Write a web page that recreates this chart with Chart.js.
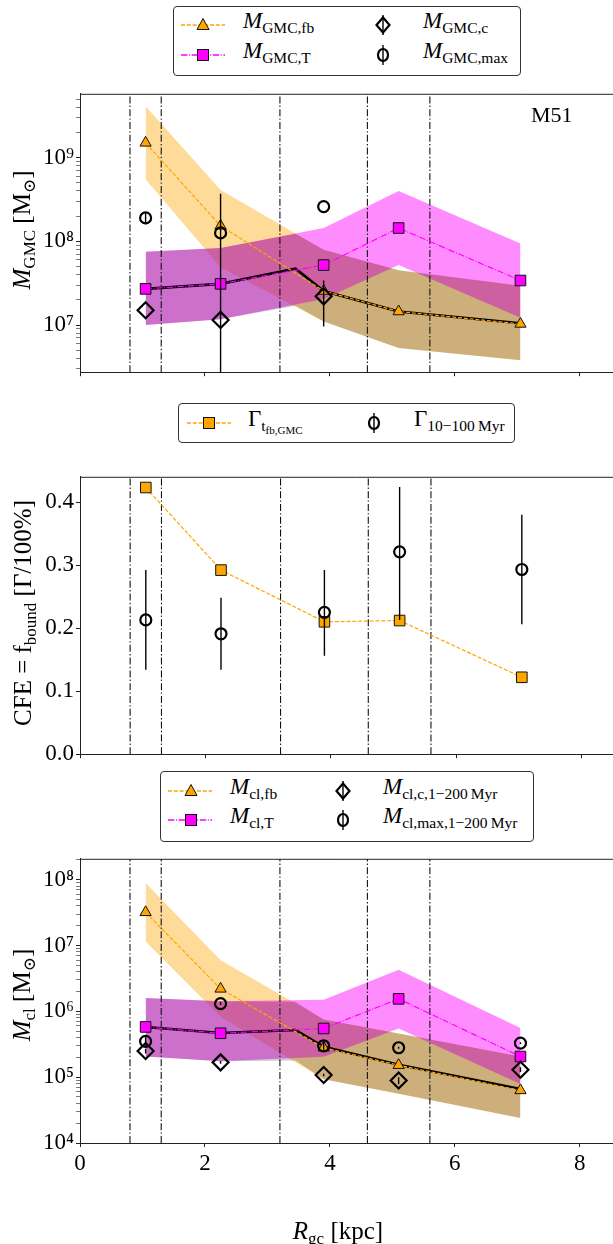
<!DOCTYPE html>
<html>
<head>
<meta charset="utf-8">
<script src="https://cdn.jsdelivr.net/npm/chart.js@4.4.1/dist/chart.umd.min.js"></script>
<style>
  html, body { margin: 0; padding: 0; background: #fff; overflow: hidden; }
  #page { position: relative; width: 613px; height: 1244px; overflow: hidden;
          font-family: "Liberation Serif", "DejaVu Serif", serif; color: #000; }
  #page canvas { position: absolute; left: 0; }
  .lg { position: absolute; border: 1px solid #333; border-radius: 4px; background: #fff; box-sizing: border-box; }
  .txt { position: absolute; font-size: 23px; line-height: 22px; white-space: nowrap; }
  .txt sub { font-size: 15.5px; vertical-align: -5px; line-height: 0; }
  .ttl sub { font-size: 17px; vertical-align: -5px; line-height: 0; }
  .txt sub sub { font-size: 11px; vertical-align: -3px; }
  .ttl { position: absolute; font-size: 25px; line-height: 26px; white-space: nowrap;
         transform: translate(-50%, -50%); }
  .ttl.rot { transform: translate(-50%, -50%) rotate(-90deg); }
  svg.h { position: absolute; left: 0; top: 0; overflow: visible; }
</style>
</head>
<body>
<div id="page">
  <canvas id="c1" width="640" height="310" style="top:78px"></canvas>
  <canvas id="c2" width="640" height="309" style="top:461px"></canvas>
  <canvas id="c3" width="640" height="335" style="top:843px"></canvas>
</div>
<script>
// galactocentric radius of the bins (kpc) and the bin edges
const rgc = [1.05, 2.25, 3.9, 5.1, 7.05];
const binEdges = [0.8, 1.3, 3.2, 4.6, 5.6];
const xTicks = [0, 2, 4, 6, 8];

// top panel: GMC masses
const gmcFb = [1.5e9, 1.53e8, 2.55e7, 1.45e7, 1.03e7];
const gmcFbLo = [5.5e8, 4.9e7, 1.1e7, 5.3e6, 3.8e6];
const gmcFbHi = [4.1e9, 4.1e8, 7.9e7, 4.5e7, 2.95e7];
const gmcT = [2.7e7, 3.1e7, 5.2e7, 1.44e8, 3.4e7];
const gmcTLo = [1.0e7, 1.17e7, 2.05e7, 5.2e7, 1.22e7];
const gmcTHi = [7.5e7, 8.3e7, 1.44e8, 4.0e8, 9.4e7];
const gmcMinX = [1.05, 2.25, 3.45, 3.9, 5.1, 7.05];
const gmcMin = [2.7e7, 3.1e7, 4.7e7, 2.55e7, 1.45e7, 1.05e7];
const gmcMinLo = [1.0e7, 1.17e7, 1.7e7, 1.1e7, 5.3e6, 3.8e6];
const gmcMinHi = [7.5e7, 8.3e7, 1.23e8, 7.9e7, 4.5e7, 2.95e7];
const gmcObsX = [1.05, 2.25, 3.9];
const gmcC = [1.5e7, 1.15e7, 2.2e7];
const gmcCLo = [1.5e7, 1.15e7, 9.6e6];
const gmcCHi = [1.5e7, 1.15e7, 3.4e7];
const gmcMax = [1.9e8, 1.26e8, 2.6e8];
const gmcMaxLo = [1.6e8, 1.0e6, 2.6e8];
const gmcMaxHi = [2.2e8, 3.7e8, 2.6e8];

// middle panel: cluster formation efficiency
const cfeModel = [0.423, 0.292, 0.210, 0.212, 0.122];
const cfeObs = [0.213, 0.191, 0.225, 0.321, 0.293];
const cfeObsLo = [0.134, 0.134, 0.156, 0.213, 0.206];
const cfeObsHi = [0.292, 0.248, 0.292, 0.424, 0.380];

// bottom panel: cluster masses
const clFb = [3.2e7, 2.2e6, 2.8e5, 1.52e5, 6.3e4];
const clFbLo = [1.15e7, 8.3e5, 9.3e4, 5.6e4, 2.4e4];
const clFbHi = [8.9e7, 6.0e6, 7.5e5, 4.6e5, 2.06e5];
const clT = [5.8e5, 4.65e5, 5.5e5, 1.55e6, 2.06e5];
const clTLo = [2.06e5, 1.74e5, 2.05e5, 5.5e5, 7.9e4];
const clTHi = [1.6e6, 1.42e6, 1.5e6, 4.3e6, 5.6e5];
const clMinX = [1.05, 2.25, 3.45, 3.9, 5.1, 7.05];
const clMin = [5.8e5, 4.7e5, 5.2e5, 2.9e5, 1.55e5, 6.6e4];
const clMinLo = [2.06e5, 1.74e5, 1.8e5, 9.3e4, 5.6e4, 2.4e4];
const clMinHi = [1.6e6, 1.42e6, 1.4e6, 7.5e5, 4.6e5, 2.06e5];
const clC = [2.5e5, 1.68e5, 1.08e5, 8.9e4, 1.3e5];
const clCLo = [2.3e5, 1.6e5, 1.03e5, 7.8e4, 1.2e5];
const clCHi = [2.7e5, 1.76e5, 1.13e5, 1.0e5, 1.42e5];
const clMax = [3.5e5, 1.31e6, 3.0e5, 2.8e5, 3.3e5];
const clMaxLo = [2.9e5, 1.25e6, 2.6e5, 2.7e5, 3.2e5];
const clMaxHi = [4.2e5, 1.4e6, 3.6e5, 2.9e5, 3.4e5];

const ORANGE = '#ffa500', MAGENTA = '#ff00ff';
const DASH = [4, 1.8], DASHDOT = [6.4, 1.6, 1, 1.6], VDASH = [7, 2.2, 1.4, 2.2];
const NONE = 'rgba(0,0,0,0)';

Chart.defaults.font.family = "'Liberation Serif', 'DejaVu Serif', serif";
Chart.defaults.font.size = 23;
Chart.defaults.color = '#000';

function pts(xs, ys) { return xs.map((x, i) => ({ x: x, y: ys[i] })); }
function bars(xs, lo, hi) {
  const out = [];
  xs.forEach((x, i) => { out.push({ x: x, y: lo[i] }, { x: x, y: hi[i] }, { x: x, y: null }); });
  return out;
}
function vlines(y0, y1) {
  const out = [];
  binEdges.forEach(e => { out.push({ x: e, y: y0 }, { x: e, y: y1 }, { x: e, y: null }); });
  return out;
}

const SUP = '⁰¹²³⁴⁵⁶⁷⁸⁹';
function decadeLabel(v) {
  const e = Math.log10(v);
  if (Math.abs(e - Math.round(e)) > 1e-6) return '';
  return '10' + String(Math.round(e)).split('').map(d => SUP[+d]).join('');
}
function logTicks(lo, hi) {
  const out = [];
  for (let e = Math.floor(Math.log10(lo)); e <= Math.ceil(Math.log10(hi)); e++) {
    for (let m = 1; m <= 9; m++) {
      const v = m * Math.pow(10, e);
      if (v >= lo && v <= hi) out.push({ value: v, major: m === 1 });
    }
  }
  return out;
}

function xScale(showLabels) {
  return {
    type: 'linear', min: 0, max: 8.8,
    afterBuildTicks: s => { s.ticks = xTicks.map(v => ({ value: v })); },
    afterFit: s => { s.height = showLabels ? 35 : 10; },
    ticks: { padding: 3, autoSkip: false, maxRotation: 0, callback: v => showLabels ? String(v) : '' },
    grid: { drawOnChartArea: false, tickLength: 4, tickColor: '#222' },
    border: { color: '#222', width: 1 }
  };
}
function logScale(min, max) {
  return {
    type: 'logarithmic', min: min, max: max,
    afterBuildTicks: s => { s.ticks = logTicks(min, max); },
    afterFit: s => { s.width = 80; },
    ticks: { padding: 2, autoSkip: false, callback: v => decadeLabel(v) },
    grid: { drawOnChartArea: false, tickLength: 4, tickColor: '#222',
            tickWidth: c => (c.tick && c.tick.major) ? 1 : 0.6 },
    border: { color: '#222', width: 1 }
  };
}

// top spine of each panel
const frame = {
  id: 'frame',
  afterDraw(chart) {
    const a = chart.chartArea, c = chart.ctx;
    c.save();
    c.strokeStyle = '#222'; c.lineWidth = 1;
    c.beginPath(); c.moveTo(a.left, a.top + 0.5); c.lineTo(a.right, a.top + 0.5); c.stroke();
    c.restore();
  }
};

function bandSets(xs, hi, lo, color, order) {
  return [
    { data: pts(xs, hi), fill: '+1', backgroundColor: color, borderColor: NONE, borderWidth: 1, pointRadius: 0, order: order },
    { data: pts(xs, lo), fill: false, borderColor: NONE, borderWidth: 1, pointRadius: 0, order: order - 1 }
  ];
}
function vlineSet(y0, y1) {
  return { data: vlines(y0, y1), borderColor: '#111', borderWidth: 1.1, borderDash: VDASH, pointRadius: 0, order: 80 };
}
function errSet(xs, lo, hi, order) {
  return { data: bars(xs, lo, hi), borderColor: '#000', borderWidth: 1.4, pointRadius: 0, order: order };
}
function markerSet(xs, ys, style, radius, order) {
  return { data: pts(xs, ys), showLine: false, pointStyle: style, pointRadius: radius,
           pointBackgroundColor: NONE, pointBorderColor: '#000', pointBorderWidth: 2.2, order: order };
}
function modelLine(xs, ys, color, dash, style, radius, order) {
  return { data: pts(xs, ys), borderColor: color, borderWidth: 1.2, borderDash: dash,
           pointStyle: style, pointRadius: radius, pointBackgroundColor: color,
           pointBorderColor: '#111', pointBorderWidth: 1, order: order };
}
function blackLine(xs, ys) {
  return { data: pts(xs, ys), borderColor: '#000', borderWidth: 2.6, pointRadius: 0, order: 60 };
}

function makeChart(id, datasets, yScale, showXLabels) {
  return new Chart(document.getElementById(id), {
    type: 'line',
    data: { datasets: datasets },
    options: {
      responsive: false, animation: false, devicePixelRatio: 1,
      layout: { padding: { top: 5, right: 8, bottom: 0, left: 0 } },
      plugins: { legend: { display: false }, tooltip: { enabled: false } },
      scales: { x: xScale(showXLabels), y: yScale }
    },
    plugins: [frame]
  });
}

// top panel
const y1min = 2.73e6, y1max = 5.78e9;
makeChart('c1', [
  ...bandSets(rgc, gmcFbHi, gmcFbLo, 'rgba(255,165,0,0.4)', 100),
  ...bandSets(rgc, gmcTHi, gmcTLo, 'rgba(255,0,255,0.45)', 98),
  ...bandSets(gmcMinX, gmcMinHi, gmcMinLo, 'rgba(0,0,0,0.2)', 96),
  vlineSet(y1min, y1max),
  blackLine(gmcMinX, gmcMin),
  modelLine(rgc, gmcFb, ORANGE, DASH, 'triangle', 6.5, 50),
  modelLine(rgc, gmcT, MAGENTA, DASHDOT, 'rect', 7.5, 45),
  errSet(gmcObsX, gmcCLo, gmcCHi, 40),
  errSet(gmcObsX, gmcMaxLo, gmcMaxHi, 39),
  markerSet(gmcObsX, gmcC, 'rectRot', 8, 30),
  markerSet(gmcObsX, gmcMax, 'circle', 5.5, 20)
], logScale(y1min, y1max), false);

// middle panel
const cfeScale = {
  type: 'linear', min: 0, max: 0.44,
  afterBuildTicks: s => { s.ticks = [0, 0.1, 0.2, 0.3, 0.4].map(v => ({ value: v })); },
  afterFit: s => { s.width = 80; },
  ticks: { padding: 2, autoSkip: false, callback: v => v.toFixed(1) },
  grid: { drawOnChartArea: false, tickLength: 4, tickColor: '#222' },
  border: { color: '#222', width: 1 }
};
makeChart('c2', [
  vlineSet(0, 0.44),
  modelLine(rgc, cfeModel, ORANGE, DASH, 'rect', 7.5, 50),
  errSet(rgc, cfeObsLo, cfeObsHi, 40),
  markerSet(rgc, cfeObs, 'circle', 5.5, 20)
], cfeScale, false);

// bottom panel
const y3min = 1e4, y3max = 2.08e8;
makeChart('c3', [
  ...bandSets(rgc, clFbHi, clFbLo, 'rgba(255,165,0,0.4)', 100),
  ...bandSets(rgc, clTHi, clTLo, 'rgba(255,0,255,0.45)', 98),
  ...bandSets(clMinX, clMinHi, clMinLo, 'rgba(0,0,0,0.2)', 96),
  vlineSet(y3min, y3max),
  blackLine(clMinX, clMin),
  modelLine(rgc, clFb, ORANGE, DASH, 'triangle', 6.5, 50),
  modelLine(rgc, clT, MAGENTA, DASHDOT, 'rect', 7.5, 45),
  errSet(rgc, clCLo, clCHi, 40),
  errSet(rgc, clMaxLo, clMaxHi, 39),
  markerSet(rgc, clC, 'rectRot', 8, 30),
  markerSet(rgc, clMax, 'circle', 5.5, 20)
], logScale(y3min, y3max), true);

// ---- text and legends (html) ----
const page = document.getElementById('page');
function addDiv(cls, html, css) {
  const d = document.createElement('div');
  d.className = cls; d.innerHTML = html;
  Object.assign(d.style, css);
  page.appendChild(d);
  return d;
}
function handleSvg(kind, lx, mx, y, line) {
  let s = '';
  if (line) s += `<line x1="${lx}" y1="${y}" x2="${lx + 44}" y2="${y}" stroke="${line[0]}" stroke-width="1.3" stroke-dasharray="${line[1]}"/>`;
  if (kind === 'tri') s += `<polygon points="${mx},${y - 6.5} ${mx - 6},${y + 4.5} ${mx + 6},${y + 4.5}" fill="${ORANGE}" stroke="#111" stroke-width="1"/>`;
  if (kind === 'sqm') s += `<rect x="${mx - 5.5}" y="${y - 5.5}" width="11" height="11" fill="${MAGENTA}" stroke="#111" stroke-width="1"/>`;
  if (kind === 'sqo') s += `<rect x="${mx - 5.5}" y="${y - 5.5}" width="11" height="11" fill="${ORANGE}" stroke="#111" stroke-width="1"/>`;
  if (kind === 'dia') s += `<line x1="${mx}" y1="${y - 10}" x2="${mx}" y2="${y + 10}" stroke="#000" stroke-width="1.4"/><polygon points="${mx},${y - 7.5} ${mx + 6.5},${y} ${mx},${y + 7.5} ${mx - 6.5},${y}" fill="none" stroke="#000" stroke-width="2.2"/>`;
  if (kind === 'cir') s += `<line x1="${mx}" y1="${y - 10}" x2="${mx}" y2="${y + 10}" stroke="#000" stroke-width="1.4"/><ellipse cx="${mx}" cy="${y}" rx="5" ry="6" fill="none" stroke="#000" stroke-width="2.2"/>`;
  return s;
}
function legend(box, items) {
  addDiv('lg', '', { left: box[0] + 'px', top: box[1] + 'px', width: box[2] + 'px', height: box[3] + 'px' });
  let svg = '';
  items.forEach(it => {
    svg += handleSvg(it.kind, it.lx, it.mx, it.y, it.line);
    addDiv('txt', it.html, { left: it.tx + 'px', top: (it.y - 15) + 'px' });
  });
  const sv = document.createElementNS('http://www.w3.org/2000/svg', 'svg');
  sv.setAttribute('class', 'h'); sv.setAttribute('width', '613'); sv.setAttribute('height', '1244');
  sv.innerHTML = svg;
  page.appendChild(sv);
}

legend([173, 6, 348, 70], [
  { kind: 'tri', line: [ORANGE, '4,1.8'], lx: 181, mx: 203, y: 25, tx: 243, html: '<i>M</i><sub>GMC,fb</sub>' },
  { kind: 'sqm', line: [MAGENTA, '6.4,1.6,1,1.6'], lx: 181, mx: 203, y: 55, tx: 243, html: '<i>M</i><sub>GMC,T</sub>' },
  { kind: 'dia', lx: 0, mx: 383, y: 25, tx: 423, html: '<i>M</i><sub>GMC,c</sub>' },
  { kind: 'cir', lx: 0, mx: 383, y: 55, tx: 423, html: '<i>M</i><sub>GMC,max</sub>' }
]);
legend([178, 403, 337, 40], [
  { kind: 'sqo', line: [ORANGE, '4,1.8'], lx: 187, mx: 209, y: 423, tx: 248, html: 'Γ<sub>t<sub>fb,GMC</sub></sub>' },
  { kind: 'cir', lx: 0, mx: 374, y: 423, tx: 414, html: 'Γ<sub>10−100&#8201;Myr</sub>' }
]);
legend([160, 771, 374, 71], [
  { kind: 'tri', line: [ORANGE, '4,1.8'], lx: 168, mx: 191, y: 791, tx: 230, html: '<i>M</i><sub>cl,fb</sub>' },
  { kind: 'sqm', line: [MAGENTA, '6.4,1.6,1,1.6'], lx: 168, mx: 191, y: 820, tx: 230, html: '<i>M</i><sub>cl,T</sub>' },
  { kind: 'dia', lx: 0, mx: 343, y: 791, tx: 383, html: '<i>M</i><sub>cl,c,1−200&#8201;Myr</sub>' },
  { kind: 'cir', lx: 0, mx: 343, y: 820, tx: 383, html: '<i>M</i><sub>cl,max,1−200&#8201;Myr</sub>' }
]);

addDiv('ttl rot', '<i>M</i><sub>GMC</sub> [M<sub>⊙</sub>]', { left: '22px', top: '230px' });
addDiv('ttl rot', 'CFE = f<sub>bound</sub> [Γ/100%]', { left: '23px', top: '613px' });
addDiv('ttl rot', '<i>M</i><sub>cl</sub> [M<sub>⊙</sub>]', { left: '22px', top: '995px' });
addDiv('ttl', '<i>R</i><sub>gc</sub> [kpc]', { left: '338px', top: '1231px' });
addDiv('txt', 'M51', { left: '531px', top: '104px', fontSize: '22px' });
</script>
</body>
</html>
